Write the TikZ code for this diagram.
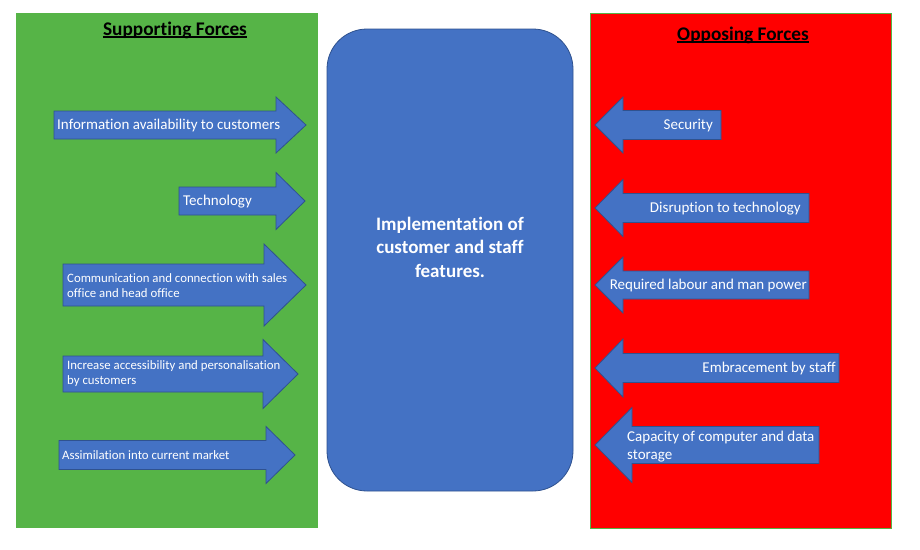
\documentclass[tikz,border=0pt]{standalone}
\usepackage{fontspec}
\setmainfont{Carlito}[Ligatures=NoCommon]
\definecolor{pgreen}{RGB}{86,180,71}
\definecolor{pred}{RGB}{255,0,0}
\definecolor{oblue}{RGB}{68,114,196}
\definecolor{oline}{RGB}{47,82,143}
\tikzset{
  arrowshape/.style={fill=oblue,draw=oline,line width=0.8pt,line join=miter},
  bigtxt/.style={inner sep=0pt,text=white,font=\fontsize{15}{17.7}\selectfont},
  smalltxt/.style={inner sep=0pt,text=white,align=left,font=\fontsize{12.8}{15.3}\selectfont},
  titletxt/.style={inner sep=0pt,text=black,font=\bfseries\fontsize{19.3}{22}\selectfont},
}
% right-pointing arrow: x1, xb, xt, yc, body half, head half
\newcommand{\rarr}[6]{%
  \draw[arrowshape] (#1,#4-#5) -- (#2,#4-#5) -- (#2,#4-#6) -- (#3,#4) -- (#2,#4+#6) -- (#2,#4+#5) -- (#1,#4+#5) -- cycle;}
% left-pointing arrow: xt, xb, x2, yc, body half, head half
\newcommand{\larr}[6]{%
  \draw[arrowshape] (#1,#4) -- (#2,#4-#6) -- (#2,#4-#5) -- (#3,#4-#5) -- (#3,#4+#5) -- (#2,#4+#5) -- (#2,#4+#6) -- cycle;}
\begin{document}
\begin{tikzpicture}[x=1pt,y=-1pt]
\useasboundingbox (0,0) rectangle (920,549);
\fill[white] (0,0) rectangle (920,549);
% panels
\fill[pgreen] (16,13) rectangle (318,528);
\filldraw[fill=pred,draw=pgreen,line width=0.8pt] (590,13) rectangle (891,528);
% center box
\node[draw=oline,fill=oblue,line width=0.8pt,rounded corners=40pt,minimum width=246pt,minimum height=462pt,inner sep=0pt] (center) at (450,260) {};
\node[inner sep=0pt,text=white,align=center,font=\bfseries\fontsize{19}{23.5}\selectfont] (ctext) at (450,247) {Implementation of\\customer and staff\\features.};
% titles
\node[titletxt,anchor=base] (tsup) at (175,35) {Supporting Forces};
\draw[line width=1.3pt] ([yshift=-2pt]tsup.base west) -- ([yshift=-2pt]tsup.base east);
\node[titletxt,anchor=base] (topp) at (743,40) {Opposing Forces};
\draw[line width=1.3pt] ([yshift=-2pt]topp.base west) -- ([yshift=-2pt]topp.base east);
% supporting arrows
\rarr{54}{276}{306}{125}{14}{28}
\rarr{179}{276}{305}{201}{14}{28.5}
\rarr{63}{264}{306}{285}{21}{41}
\rarr{63}{263}{298}{374}{18}{34.5}
\rarr{59}{266}{295}{455}{14.5}{28.5}
\node[bigtxt,anchor=mid west] (s1) at (57,127.5) {Information availability to customers};
\node[bigtxt,anchor=mid west] (s2) at (183,203.5) {Technology};
\node[smalltxt,anchor=west] (s3) at (67,285.5) {Communication and connection with sales\\office and head office};
\node[smalltxt,anchor=west] (s4) at (67,373.5) {Increase accessibility and personalisation\\by customers};
\node[smalltxt,anchor=mid west] (s5) at (62,457) {Assimilation into current market};
% opposing arrows
\larr{595}{623}{721}{125}{14.5}{28}
\larr{595}{623}{809}{208}{14.5}{28.5}
\larr{595}{623}{809}{285}{14}{28}
\larr{595}{623}{839}{368}{14.5}{29}
\larr{595}{632}{819}{445}{18.5}{37.5}
\node[bigtxt,anchor=mid east] (o1) at (713,127.5) {Security};
\node[bigtxt,anchor=mid east] (o2) at (801,210.5) {Disruption to technology};
\node[bigtxt,anchor=mid east] (o3) at (807,287.5) {Required labour and man power};
\node[bigtxt,anchor=mid east] (o4) at (836,370.5) {Embracement by staff};
\node[bigtxt,anchor=west,align=left] (o5) at (627,446.5) {Capacity of computer and data\\storage};
\end{tikzpicture}
\end{document}
